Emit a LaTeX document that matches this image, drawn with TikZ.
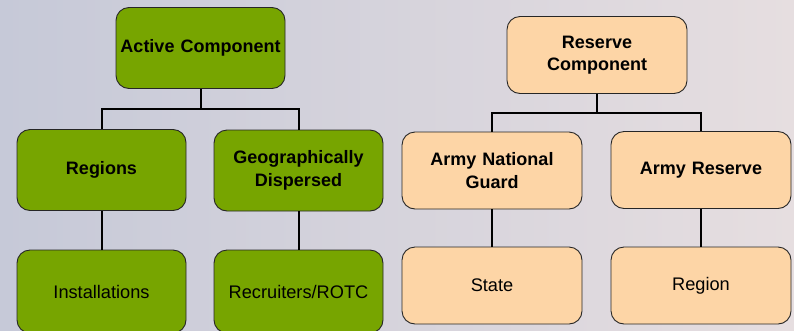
\documentclass[tikz,border=0pt]{standalone}
\usepackage{fontspec}
\setmainfont{Liberation Sans}
\definecolor{gfill}{HTML}{77A500}
\definecolor{pfill}{HTML}{FDD5A6}
\definecolor{edge}{HTML}{262626}
\definecolor{bgL}{HTML}{C6C9D8}
\definecolor{bgM}{HTML}{F4F3F6}
\definecolor{bgR}{HTML}{E6DEE0}
\tikzset{
  box/.style={draw=edge, line width=0.9pt, rounded corners=13pt, align=center,
    inner sep=2pt, font=\fontsize{18.2}{22.5}\selectfont},
  gbox/.style={box, fill=gfill, minimum width=169pt, minimum height=81pt, text width=165pt},
  pbox/.style={box, fill=pfill, minimum width=180pt, minimum height=77pt, text width=175pt},
  hd/.style={font=\fontsize{18}{22.5}\selectfont\bfseries},
  conn/.style={draw=black, line width=2pt}
}
\begin{document}
\begin{tikzpicture}[x=1pt,y=-1pt]
\useasboundingbox (0,0) rectangle (794,330);
\clip (0,0) rectangle (794,330);
\shade[left color=bgL, middle color=bgM, right color=bgR] (0,0) rectangle (794,330);
% Active component tree
\node[gbox, hd] (ac) at (200.5,48) {Active Component};
\node[gbox, hd] (reg) at (101.5,170) {Regions};
\node[gbox, hd] (geo) at (298.5,170.5) {Geographically\\Dispersed};
\node[gbox, minimum height=83pt] (ins) at (101.5,291.5) {Installations};
\node[gbox, minimum height=83pt] (rec) at (298.5,291.5) {Recruiters/ROTC};
% Reserve component tree
\node[pbox, hd] (rc) at (597,55) {Reserve\\Component};
\node[pbox, hd] (ng) at (492,170.5) {Army National\\Guard};
\node[pbox, hd] (ar) at (701,170) {Army Reserve};
\node[pbox] (st) at (492,285.5) {State};
\node[pbox] (rg) at (701,285.5) {Region};
% connectors
\coordinate (barL) at (200.5,108.5);
\coordinate (barR) at (597,113);
\draw[conn] (ac.south) -- (barL);
\draw[conn] (reg.north) |- (barL) -| (geo.north);
\draw[conn] (reg.south) -- (ins.north);
\draw[conn] (geo.south) -- (rec.north);
\draw[conn] (rc.south) -- (barR);
\draw[conn] (ng.north) |- (barR) -| (ar.north);
\draw[conn] (ng.south) -- (st.north);
\draw[conn] (ar.south) -- (rg.north);
\end{tikzpicture}
\end{document}
